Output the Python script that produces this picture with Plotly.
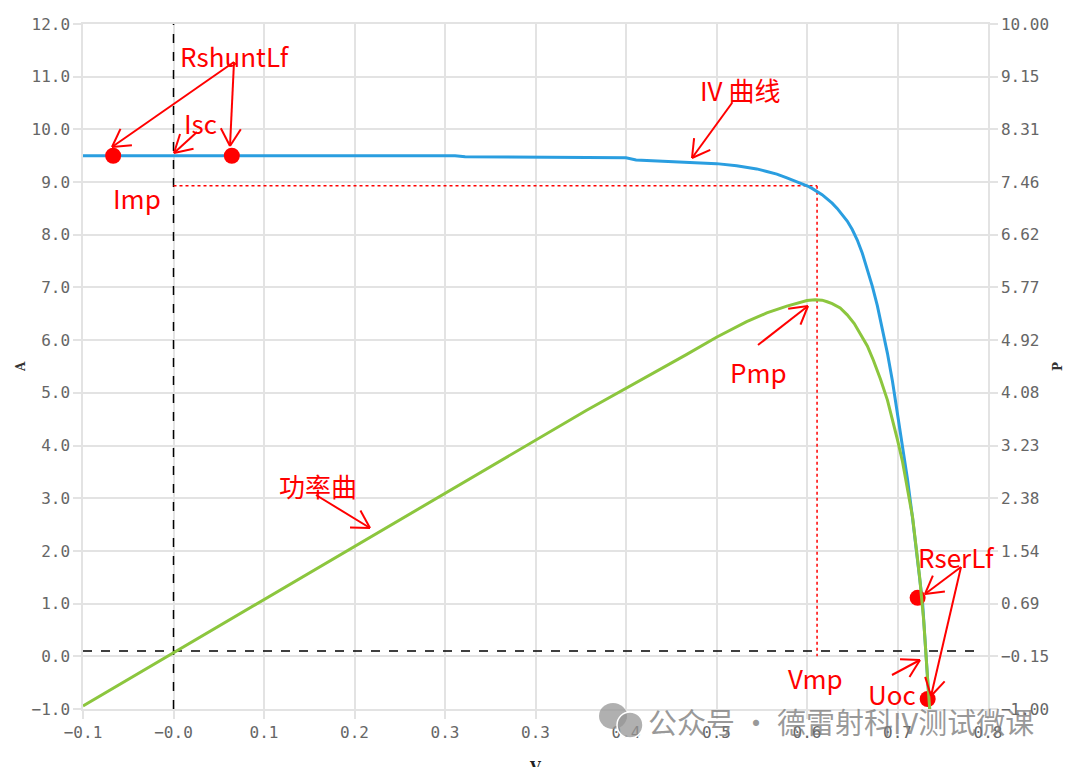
import math
import plotly.graph_objects as go

# ---------------- data ----------------
iv_v = [-0.10, 0.00, 0.10, 0.20, 0.27, 0.28, 0.40, 0.44, 0.45, 0.47, 0.50, 0.53, 0.55,
        0.56, 0.57, 0.58, 0.59, 0.60, 0.61, 0.62, 0.625, 0.63, 0.635, 0.64, 0.645, 0.65,
        0.655, 0.66, 0.665, 0.67, 0.675, 0.68, 0.685, 0.69, 0.695, 0.70, 0.705, 0.71,
        0.715, 0.72, 0.725, 0.73, 0.735, 0.74, 0.742]
iv_i = [9.50, 9.50, 9.50, 9.50, 9.50, 9.48, 9.47, 9.46, 9.42, 9.40, 9.38, 9.35, 9.31,
        9.28, 9.25, 9.20, 9.15, 9.08, 9.01, 8.93, 8.88, 8.82, 8.76, 8.68, 8.60, 8.50,
        8.39, 8.26, 8.10, 7.90, 7.65, 7.35, 7.02, 6.65, 6.22, 5.75, 5.22, 4.62,
        4.00, 3.35, 2.62, 1.85, 1.00, -0.45, -1.00]

p_v = [-0.10, 0.00, 0.10, 0.20, 0.30, 0.40, 0.50, 0.53, 0.56, 0.58, 0.60, 0.61, 0.62,
       0.628, 0.635, 0.64, 0.645, 0.653, 0.66, 0.667, 0.673, 0.68, 0.686, 0.693, 0.70,
       0.705, 0.71, 0.715, 0.719, 0.725, 0.732, 0.736, 0.740, 0.742]
p_p = [-0.95, 0.00, 0.95, 1.90, 2.85, 3.79, 4.69, 4.97, 5.22, 5.36, 5.47, 5.52, 5.56,
       5.57, 5.565, 5.54, 5.51, 5.44, 5.33, 5.19, 5.03, 4.83, 4.60, 4.30, 3.96,
       3.66, 3.32, 2.97, 2.63, 2.08, 1.12, 0.43, -0.53, -1.00]

dot_v = [-0.070, 0.048, 0.730, 0.740]
dot_i = [9.50, 9.50, 1.11, -0.81]

zero_v = -0.01          # vertical reference line (V)
zero_i = 0.10           # horizontal reference line (A)
vmp = 0.630
imp = 8.93

x_tickvals = [-0.10, -0.01, 0.08, 0.17, 0.26, 0.35, 0.44, 0.53, 0.62, 0.71, 0.80]
x_ticktext = ["\u22120.1", "\u22120.0", "0.1", "0.2", "0.3", "0.3", "0.4", "0.5", "0.6", "0.7", "0.8"]

RED = "#ff0000"
TICKFONT = dict(family="DejaVu Sans Mono", size=16, color="#666666")
LABFONT = dict(family="Noto Sans CJK SC", size=26, color=RED)

# page body has an 8px default margin: the figure is sized so the plot area
# lands where it is in the reference
W, H = 1072, 759
ML, MT = 75, 16
PW, PH = 905, 685


def px(x):
    return (x - 83) / PW


def py(y):
    return (709 - y) / PH


fig = go.Figure()

# reference lines
fig.add_trace(go.Scatter(x=[zero_v, zero_v], y=[-1, 12], mode="lines",
                         line=dict(color="black", width=1.5, dash="dash"), hoverinfo="skip"))
fig.add_trace(go.Scatter(x=[-0.10, 0.794], y=[zero_i, zero_i], mode="lines",
                         line=dict(color="black", width=1.5, dash="dash"), hoverinfo="skip"))
fig.add_trace(go.Scatter(x=[zero_v, vmp], y=[imp, imp], mode="lines",
                         line=dict(color=RED, width=1.5, dash="dot"), hoverinfo="skip"))
fig.add_trace(go.Scatter(x=[vmp, vmp], y=[imp, 0.0], mode="lines",
                         line=dict(color=RED, width=1.5, dash="dot"), hoverinfo="skip"))

# power curve (right axis)
fig.add_trace(go.Scatter(x=p_v, y=p_p, mode="lines", yaxis="y2",
                         line=dict(color="#8cc63e", width=3)))
# IV curve
fig.add_trace(go.Scatter(x=iv_v, y=iv_i, mode="lines",
                         line=dict(color="#2a9ee0", width=3)))
# red markers
fig.add_trace(go.Scatter(x=dot_v, y=dot_i, mode="markers",
                         marker=dict(color=RED, size=16)))

# ---------------- annotations ----------------
labels = [
    ("RshuntLf", 0.051, 11.41),
    ("Isc", 0.017, 10.14),
    ("Imp", -0.046, 8.70),
    ("IV 曲线", 0.553, 10.75),
    ("Pmp", 0.572, 5.40),
    ("功率曲", 0.134, 3.25),
    ("RserLf", 0.769, 1.89),
    ("Vmp", 0.628, -0.41),
    ("Uoc", 0.705, -0.71),
]
anns = []
for t, x, y in labels:
    anns.append(dict(text=t, x=x, y=y, xref="x", yref="y", showarrow=False,
                     font=LABFONT, xanchor="center", yanchor="middle"))

# hand-drawn style arrows (tail -> tip, page pixels), drawn as thin open V heads
arrows = [
    ((234, 62), (112, 147)),
    ((234, 62), (230, 146)),
    ((197, 132), (174, 153)),
    ((732, 103), (692, 158)),
    ((758, 345), (808, 306)),
    ((316, 495), (370, 528)),
    ((961, 567), (925, 594)),
    ((961, 567), (931, 696)),
    ((892, 675), (920, 660)),
]
shapes = []
HEAD, ANG = 20, math.radians(30)
for (tx, ty), (hx, hy) in arrows:
    line = dict(color=RED, width=2)
    shapes.append(dict(type="line", xref="paper", yref="paper",
                       x0=px(tx), y0=py(ty), x1=px(hx), y1=py(hy), line=line))
    base = math.atan2(ty - hy, tx - hx)
    for s in (-1, 1):
        a = base + s * ANG
        bx, by = hx + HEAD * math.cos(a), hy + HEAD * math.sin(a)
        shapes.append(dict(type="line", xref="paper", yref="paper",
                           x0=px(hx), y0=py(hy), x1=px(bx), y1=py(by), line=line))

# axis titles
anns.append(dict(text="<b>A</b>", x=px(12), y=py(367), xref="paper", yref="paper",
                 showarrow=False, textangle=-90, font=dict(family="DejaVu Serif", size=12, color="#333")))
anns.append(dict(text="<b>P</b>", x=px(1067), y=py(367), xref="paper", yref="paper",
                 showarrow=False, textangle=-90, font=dict(family="DejaVu Serif", size=12, color="#333")))
anns.append(dict(text="<b>V</b>", x=px(535), y=py(757), xref="paper", yref="paper",
                 showarrow=False, yanchor="top", font=dict(family="DejaVu Serif", size=14, color="#222")))
# watermark
anns.append(dict(text="公众号 · 德雷射科IV测试微课", x=px(646), y=py(721),
                 xref="paper", yref="paper", showarrow=False, xanchor="left", yanchor="middle",
                 font=dict(family="Noto Sans CJK SC", size=29, color="rgba(120,120,120,0.75)")))

shapes += [
    dict(type="circle", xref="paper", yref="paper", x0=px(599), x1=px(627), y0=py(729), y1=py(703),
         fillcolor="rgba(150,150,150,0.75)", line=dict(width=0)),
    dict(type="circle", xref="paper", yref="paper", x0=px(617), x1=px(643), y0=py(738), y1=py(712),
         fillcolor="rgba(150,150,150,0.75)", line=dict(color="white", width=1.5)),
]

GRID = "#e3e3e3"
fig.update_layout(
    width=W, height=H,
    margin=dict(l=ML, r=W - ML - PW, t=MT, b=H - MT - PH, autoexpand=False),
    paper_bgcolor="white", plot_bgcolor="white",
    showlegend=False,
    annotations=anns,
    shapes=shapes,
    xaxis=dict(range=[-0.10, 0.80], tickvals=x_tickvals, ticktext=x_ticktext,
               showgrid=True, gridcolor=GRID, gridwidth=1.5, zeroline=False,
               ticks="outside", ticklen=8, tickcolor=GRID, tickwidth=1.5,
               showline=True, linecolor=GRID, linewidth=1.5, mirror=True,
               tickfont=TICKFONT),
    yaxis=dict(range=[-1, 12], dtick=1, tick0=0, tickformat=".1f",
               showgrid=True, gridcolor=GRID, gridwidth=1.5, zeroline=False,
               ticks="outside", ticklen=8, tickcolor=GRID, tickwidth=1.5,
               showline=True, linecolor=GRID, linewidth=1.5,
               tickfont=TICKFONT),
    yaxis2=dict(range=[-1, 10], tick0=-1, dtick=11 / 13, tickformat=".2f",
                overlaying="y", side="right", showgrid=False, zeroline=False,
                ticks="outside", ticklen=8, tickcolor=GRID, tickwidth=1.5,
                showline=True, linecolor=GRID, linewidth=1.5,
                tickfont=TICKFONT),
)

fig.write_html("out.html")
